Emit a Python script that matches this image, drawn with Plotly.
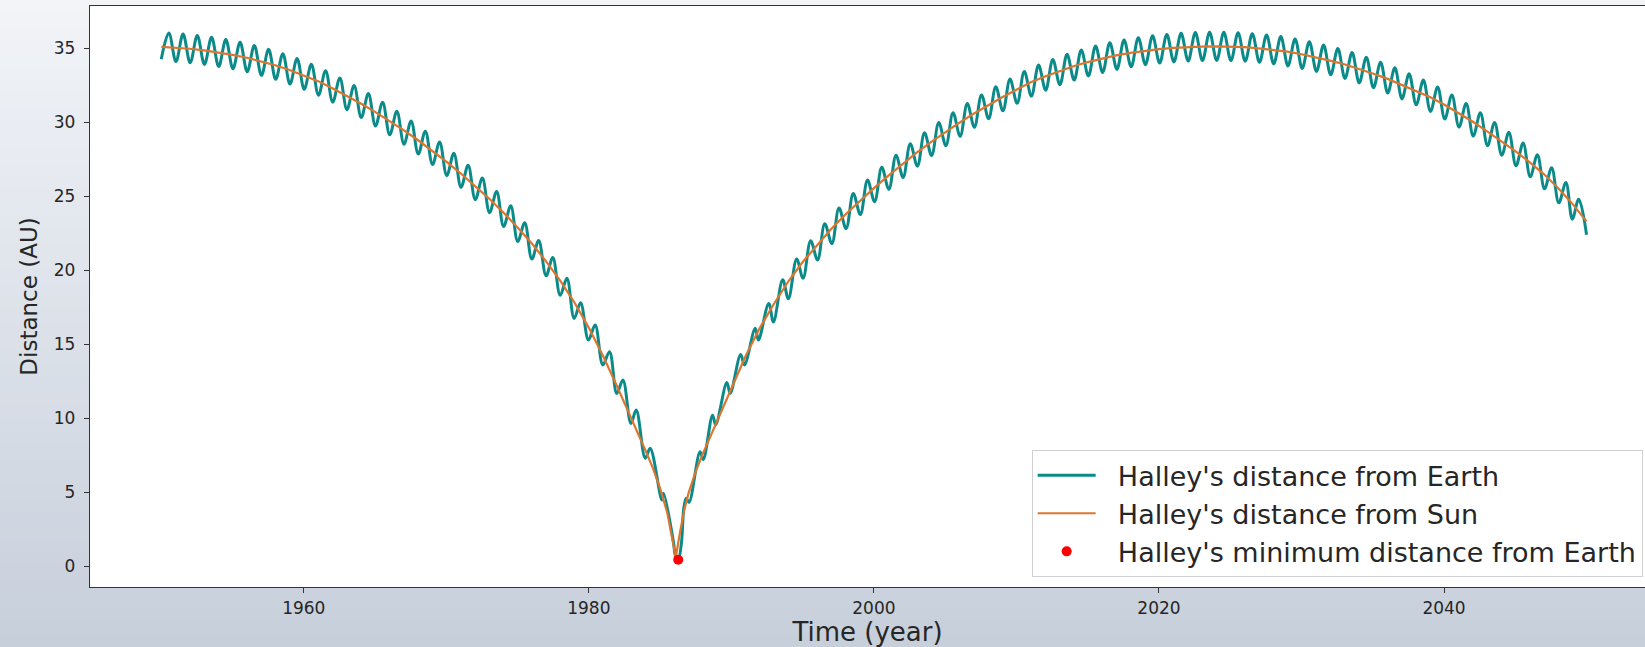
import plotly.graph_objects as go

# ---------------- data ----------------
sun_years = [1950, 1951, 1952, 1953, 1954, 1955, 1956, 1957, 1958, 1959,
             1960, 1961, 1962, 1963, 1964, 1965, 1966, 1967, 1968, 1969,
             1970, 1971, 1972, 1973, 1974, 1975, 1976, 1977, 1978, 1979,
             1980, 1981, 1982, 1983, 1984, 1984.5, 1985, 1985.5, 1985.8, 1986.1,
             1986.4, 1986.7, 1987, 1987.5, 1988, 1989, 1990, 1991, 1992, 1993,
             1994, 1995, 1996, 1997, 1998, 1999, 2000, 2001, 2002, 2003,
             2004, 2005, 2006, 2007, 2008, 2009, 2010, 2011, 2012, 2013,
             2014, 2015, 2016, 2017, 2018, 2019, 2020, 2021, 2022, 2023,
             2024, 2025, 2026, 2027, 2028, 2029, 2030, 2031, 2032, 2033,
             2034, 2035, 2036, 2037, 2038, 2039, 2040, 2041, 2042, 2043,
             2044, 2045, 2046, 2047, 2048, 2049, 2050]
sun_dist = [35.10, 35.05, 34.97, 34.86, 34.72, 34.56, 34.36, 34.12, 33.85, 33.53,
            33.18, 32.78, 32.30, 31.80, 31.27, 30.70, 30.10, 29.47, 28.80, 28.09,
            27.34, 26.55, 25.72, 24.84, 23.90, 22.89, 21.80, 20.60, 19.28, 17.80,
            16.10, 14.20, 12.10, 9.95, 7.75, 6.60, 5.25, 3.60, 2.20, 0.59,
            2.30, 3.80, 4.95, 6.40, 7.60, 9.75, 12.00, 14.20, 16.10, 17.75,
            19.25, 20.55, 21.70, 22.78, 23.76, 24.68, 25.55, 26.38, 27.18, 27.94,
            28.66, 29.34, 29.97, 30.58, 31.16, 31.69, 32.20, 32.70, 33.10, 33.46,
            33.79, 34.07, 34.31, 34.52, 34.69, 34.83, 34.95, 35.03, 35.09, 35.12,
            35.13, 35.12, 35.08, 35.00, 34.90, 34.77, 34.60, 34.40, 34.17, 33.92,
            33.63, 33.30, 32.95, 32.55, 32.15, 31.70, 31.20, 30.65, 30.05, 29.40,
            28.75, 28.05, 27.30, 26.50, 25.55, 24.50, 23.30]

earth_years = [1950.0, 1950.53, 1951.03, 1951.53, 1952.03, 1952.53, 1953.03, 1953.53,
               1954.03, 1954.53, 1955.03, 1955.53, 1956.03, 1956.53, 1957.03, 1957.53,
               1958.03, 1958.53, 1959.03, 1959.53, 1960.03, 1960.53, 1961.03, 1961.53,
               1962.03, 1962.53, 1963.03, 1963.53, 1964.03, 1964.53, 1965.03, 1965.53,
               1966.03, 1966.53, 1967.03, 1967.53, 1968.03, 1968.53, 1969.03, 1969.53,
               1970.03, 1970.53, 1971.03, 1971.53, 1972.03, 1972.53, 1973.03, 1973.53,
               1974.02, 1974.52, 1975.01, 1975.50, 1976.00, 1976.48, 1977.00, 1977.47,
               1977.99, 1978.46, 1978.97, 1979.42, 1979.97, 1980.44, 1980.98, 1981.45,
               1981.96, 1982.39, 1982.95, 1983.32, 1983.96, 1984.30, 1985.12, 1985.24,
               1985.95, 1986.06, 1986.27, 1986.50, 1986.66, 1986.83, 1987.03, 1987.80,
               1988.03, 1988.68, 1988.90, 1989.68, 1989.92, 1990.65, 1990.92, 1991.67,
               1991.90, 1992.62, 1992.95, 1993.60, 1994.00, 1994.58, 1995.03, 1995.56,
               1996.05, 1996.55, 1997.05, 1997.55, 1998.05, 1998.55, 1999.05, 1999.55,
               2000.05, 2000.55, 2001.05, 2001.55, 2002.05, 2002.55, 2003.05, 2003.55,
               2004.05, 2004.55, 2005.05, 2005.55, 2006.05, 2006.55, 2007.05, 2007.55,
               2008.05, 2008.55, 2009.05, 2009.55, 2010.05, 2010.55, 2011.05, 2011.55,
               2012.05, 2012.55, 2013.05, 2013.55, 2014.05, 2014.55, 2015.05, 2015.55,
               2016.05, 2016.55, 2017.05, 2017.55, 2018.05, 2018.55, 2019.05, 2019.55,
               2020.05, 2020.55, 2021.05, 2021.55, 2022.05, 2022.55, 2023.05, 2023.55,
               2024.05, 2024.55, 2025.05, 2025.55, 2026.05, 2026.55, 2027.05, 2027.55,
               2028.05, 2028.55, 2029.05, 2029.55, 2030.05, 2030.55, 2031.05, 2031.55,
               2032.05, 2032.55, 2033.05, 2033.55, 2034.05, 2034.55, 2035.05, 2035.55,
               2036.05, 2036.55, 2037.05, 2037.55, 2038.05, 2038.55, 2039.05, 2039.55,
               2040.05, 2040.55, 2041.05, 2041.55, 2042.05, 2042.55, 2043.05, 2043.55,
               2044.05, 2044.55, 2045.05, 2045.55, 2046.05, 2046.55, 2047.05, 2047.55,
               2048.05, 2048.55, 2049.00, 2049.45, 2050.00]
earth_dist = [34.26, 36.03, 34.10, 35.96, 34.02, 35.87, 33.91, 35.74,
              33.77, 35.59, 33.61, 35.41, 33.41, 35.19, 33.17, 34.94,
              32.90, 34.64, 32.58, 34.31, 32.23, 33.93, 31.83, 33.49,
              31.35, 33.00, 30.85, 32.49, 30.32, 31.94, 29.75, 31.35,
              29.15, 30.74, 28.52, 30.09, 27.85, 29.40, 27.14, 28.67,
              26.39, 27.90, 25.60, 27.09, 24.77, 26.23, 23.89, 25.32,
              22.95, 24.35, 21.94, 23.20, 20.75, 22.00, 19.62, 20.85,
              18.30, 19.45, 16.74, 17.80, 15.28, 16.29, 13.59, 14.49,
              11.67, 12.57, 9.64, 10.54, 7.28, 7.96, 4.46, 4.91,
              1.53, 0.74, 0.42, 1.60, 3.90, 4.58, 4.30, 7.73,
              7.20, 10.20, 9.55, 12.40, 11.67, 14.30, 13.59, 16.07,
              15.28, 17.75, 16.50, 19.35, 18.07, 20.75, 19.45, 21.99,
              20.69, 23.14, 21.79, 24.20, 22.81, 25.18, 23.76, 26.09,
              24.63, 26.95, 25.47, 27.77, 26.27, 28.55, 27.03, 29.29,
              27.75, 29.98, 28.42, 30.64, 29.05, 31.26, 29.66, 31.85,
              30.24, 32.40, 30.77, 32.92, 31.28, 33.43, 31.77, 33.87,
              32.17, 34.25, 32.53, 34.59, 32.85, 34.89, 33.13, 35.15,
              33.37, 35.38, 33.58, 35.56, 33.75, 35.72, 33.89, 35.85,
              34.00, 35.94, 34.08, 36.01, 34.14, 36.06, 34.17, 36.08,
              34.18, 36.08, 34.17, 36.05, 34.13, 35.99, 34.05, 35.90,
              33.95, 35.79, 33.81, 35.63, 33.64, 35.44, 33.44, 35.22,
              33.21, 34.98, 32.96, 34.71, 32.66, 34.40, 32.33, 34.06,
              31.98, 33.68, 31.58, 33.28, 31.18, 32.85, 30.73, 32.38,
              30.22, 31.85, 29.67, 31.27, 29.07, 30.64, 28.42, 29.99,
              27.77, 29.32, 27.06, 28.59, 26.31, 27.81, 25.50, 26.93,
              24.55, 25.92, 23.45, 24.80, 22.40]

min_year = [1986.27]
min_dist = [0.42]

x_ticks = [1960, 1980, 2000, 2020, 2040]
y_ticks = [0, 5, 10, 15, 20, 25, 30, 35]

names = ["Halley's distance from Earth",
         "Halley's distance from Sun",
         "Halley's minimum distance from Earth"]

# ---------------- figure ----------------
FONT = "DejaVu Sans"
TEXT = "#262626"
AX = "#333333"
PAD = "\u00a0\u00a0"

fig = go.Figure()
fig.add_trace(go.Scatter(x=earth_years, y=earth_dist, mode="lines", name=PAD + names[0],
                         line=dict(color="#0b8a8a", width=3, shape="spline", smoothing=1.0)))
fig.add_trace(go.Scatter(x=sun_years, y=sun_dist, mode="lines", name=PAD + names[1],
                         line=dict(color="#db7630", width=2.2)))
fig.add_trace(go.Scatter(x=min_year, y=min_dist, mode="markers", name=PAD + names[2],
                         marker=dict(color="#ff0000", size=10)))

# background gradient (figure), white plot area on top
W, H = 1645, 647
L, R, T, B = 90, 0, 6, 60
ph = H - T - B
top_rgb = (242, 244, 248)
bot_rgb = (199, 207, 219)
nb = 48
shapes = []
for i in range(nb):
    f0 = i / nb
    f1 = (i + 1) / nb
    fm = (f0 + f1) / 2
    c = tuple(round(top_rgb[k] + (bot_rgb[k] - top_rgb[k]) * fm) for k in range(3))
    y_top_px = f0 * H
    y_bot_px = f1 * H + 1
    shapes.append(dict(type="rect", xref="paper", yref="paper", layer="below",
                       x0=-0.2, x1=1.2,
                       y0=(H - B - y_bot_px) / ph, y1=(H - B - y_top_px) / ph,
                       fillcolor="rgb(%d,%d,%d)" % c, line=dict(width=0)))
shapes.append(dict(type="rect", xref="paper", yref="paper", layer="below",
                   x0=0, x1=1, y0=0, y1=1, fillcolor="white", line=dict(width=0)))

fig.update_layout(
    width=W, height=H,
    margin=dict(l=L, r=R, t=T, b=B, pad=0),
    paper_bgcolor="rgb(220,226,234)",
    plot_bgcolor="white",
    font=dict(family=FONT, color=TEXT),
    shapes=shapes,
    showlegend=True,
    legend=dict(x=0.9985, xanchor="right", y=0.017, yanchor="bottom",
                bgcolor="white", bordercolor="#d0d0d0", borderwidth=1,
                font=dict(family=FONT, size=27, color=TEXT),
                itemwidth=58, tracegroupgap=0),
    xaxis=dict(range=[1945.0, 2054.1], tickmode="array", tickvals=x_ticks,
               showgrid=False, zeroline=False,
               showline=True, linecolor=AX, linewidth=1.3, mirror=True,
               ticks="outside", ticklen=5, tickwidth=1.2, tickcolor=AX,
               tickfont=dict(family=FONT, size=17, color=TEXT),
               title=dict(text="Time (year)", font=dict(family=FONT, size=26, color=TEXT),
                          standoff=5)),
    yaxis=dict(range=[-1.42, 37.86], tickmode="array", tickvals=y_ticks,
               showgrid=False, zeroline=False,
               showline=True, linecolor=AX, linewidth=1.3, mirror=False,
               ticks="outside", ticklen=5, tickwidth=1.2, tickcolor=AX,
               ticklabelstandoff=5,
               tickfont=dict(family=FONT, size=17, color=TEXT),
               title=dict(text="Distance (AU)", font=dict(family=FONT, size=23, color=TEXT),
                          standoff=9)),
)

fig.write_html(
    "out.html",
    config={"displayModeBar": False},
    post_script="document.body.style.margin='0px';document.body.style.padding='0px';"
                "document.body.style.overflow='hidden';",
)
